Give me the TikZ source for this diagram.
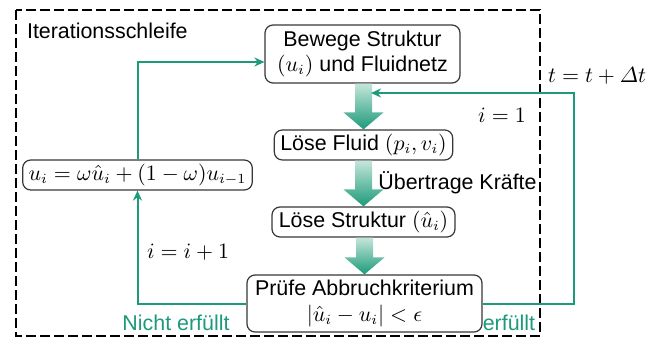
\documentclass[tikz,border=0pt]{standalone}
\usepackage{amsmath}
\usepackage{fontspec}
\setmainfont{Liberation Sans}
\usetikzlibrary{arrows.meta,calc}
\definecolor{loopgreen}{RGB}{28,154,122}
\definecolor{lightgreen}{RGB}{196,230,218}
\definecolor{boxline}{RGB}{55,55,55}

% wide shaded block arrow from the bottom of one box to the top of the next
\newcommand\flowarrow[2]{%
  \shade[top color=lightgreen, bottom color=loopgreen]
    let \p1=(#1.south), \p2=(#2.north) in
    (\x2-4.25pt,\y1) -- (\x2+4.25pt,\y1) -- (\x2+4.25pt,\y2+8.5pt)
    -- (\x2+10pt,\y2+8.5pt) -- (\x2,\y2) -- (\x2-10pt,\y2+8.5pt)
    -- (\x2-4.25pt,\y2+8.5pt) -- cycle;}

\begin{document}
\begin{tikzpicture}[x=0.5pt,y=-0.5pt,
  font=\fontsize{10.7}{12.6}\selectfont,
  stepbox/.style={draw=boxline, line width=0.6pt, rounded corners=4pt,
    fill=white, align=center, inner xsep=3pt, inner ysep=1pt},
  loopline/.style={draw=loopgreen, line width=1pt},
  looparrow/.style={loopline, -{Stealth[length=5pt,width=4.5pt]}},
  greenlabel/.style={text=loopgreen}]

\useasboundingbox (0,0) rectangle (651,347);

% outer iteration frame
\draw[line width=0.65pt, dash pattern=on 5pt off 2pt] (16,10) rectangle (540,336);
\node[anchor=west] (title) at (20,31) {Iterationsschleife};

% process steps
\node[stepbox, minimum width=97.5pt, minimum height=29pt] (move) at (362.5,54)
  {Bewege Struktur\\$(u_i)$ und Fluidnetz};
\node[stepbox, minimum width=86.5pt, minimum height=15pt] (fluid) at (363.5,145)
  {Löse Fluid $(p_i, v_i)$};
\node[stepbox, minimum width=91.5pt, minimum height=15pt] (solid) at (363.5,222)
  {Löse Struktur $(\hat{u}_i)$};
\node[stepbox, minimum width=117.5pt, minimum height=28.5pt] (check) at (364.5,303.5)
  {Prüfe Abbruchkriterium\\$|\hat{u}_i - u_i| < \epsilon$};
\node[stepbox, minimum height=15pt] (relax) at (137.5,175)
  {$u_i = \omega\hat{u}_i + (1-\omega)u_{i-1}$};

% main flow
\flowarrow{move}{fluid}
\flowarrow{fluid}{solid}
\flowarrow{solid}{check}

% inner loop: relaxation back to the structure update
\draw[looparrow] (relax.north) |- ([yshift=-4pt]move.west);
\draw[looparrow] (check.west) -| (relax.south);

% outer loop: next time step
\coordinate (entry) at (371,93);
\draw[looparrow] (check.east) -- ++(91,0) |- (entry);

% labels
\node (transfer) at (457.5,183) {Übertrage Kräfte};
\node (inc) at (188,252) {$i = i + 1$};
\node (reset) at (502,115) {$i = 1$};
\node[anchor=west] (time) at (541,76) {$t = t + \varDelta t$};
\node[greenlabel] (notok) at (176,323) {Nicht erfüllt};
\node[greenlabel] (ok) at (509,323) {erfüllt};
\end{tikzpicture}
\end{document}
